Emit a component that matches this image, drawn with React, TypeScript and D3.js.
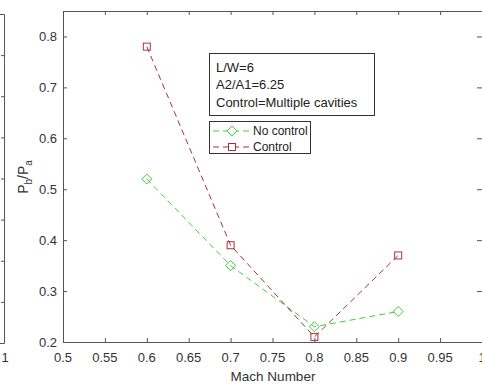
import React from "react";
import * as d3 from "d3";

const mach = [0.6, 0.7, 0.8, 0.9];
const noControl = [0.52, 0.35, 0.23, 0.26];
const control = [0.78, 0.39, 0.21, 0.37];
const xTicks = [0.5, 0.55, 0.6, 0.65, 0.7, 0.75, 0.8, 0.85, 0.9, 0.95, 1];
const yTicks = [0.2, 0.3, 0.4, 0.5, 0.6, 0.7, 0.8];
const infoLines = ["L/W=6", "A2/A1=6.25", "Control=Multiple cavities"];
const seriesNames = ["No control", "Control"];
const leftPanelTicks = [1, 2, 3, 4, 5, 6, 7];

const W = 482;
const H = 387;
const M = { left: 63, top: 11, right: 482, bottom: 342 };
const GREEN = "#3fcf3f";
const RED = "#a8323a";
const AXIS = "#555";
const FONT = "'Liberation Sans', Arial, sans-serif";

export default function App() {
  const x = d3.scaleLinear().domain([0.5, 1]).range([M.left, M.right]);
  const y = d3.scaleLinear().domain([0.2, 0.85]).range([M.bottom, M.top]);
  const line = d3
    .line<number>()
    .x((_, i) => x(mach[i]))
    .y((d) => y(d));

  const leftY = d3.scaleLinear().domain([0, 8]).range([343, 14]);

  return (
    <svg
      width={W}
      height={H}
      style={{ position: "absolute", left: 0, top: 0, background: "#fff" }}
      fontFamily={FONT}
    >
      <rect x={0} y={0} width={W} height={H} fill="#fff" />
      {/* partial neighbouring panel on the left */}
      <g stroke={AXIS} strokeWidth={1} fill="none">
        <path d={`M0,14.5H4.5V343.5H0`} />
        {leftPanelTicks.map((t) => (
          <line key={t} x1={4.5} x2={1} y1={leftY(t) + 0.5} y2={leftY(t) + 0.5} />
        ))}
      </g>
      <text x={5} y={362} fontSize={13} fill="#333" textAnchor="middle">
        1
      </text>

      {/* axes box */}
      <g stroke={AXIS} strokeWidth={1} fill="none">
        <rect x={M.left + 0.5} y={M.top + 0.5} width={M.right - M.left} height={M.bottom - M.top} />
        {xTicks.map((t) => (
          <g key={t}>
            <line x1={x(t) + 0.5} x2={x(t) + 0.5} y1={M.bottom} y2={M.bottom - 4} />
            <line x1={x(t) + 0.5} x2={x(t) + 0.5} y1={M.top} y2={M.top + 4} />
          </g>
        ))}
        {yTicks.map((t) => (
          <g key={t}>
            <line x1={M.left} x2={M.left + 4} y1={y(t) + 0.5} y2={y(t) + 0.5} />
            <line x1={M.right - 5} x2={M.right} y1={y(t) + 0.5} y2={y(t) + 0.5} />
          </g>
        ))}
      </g>
      <g fontSize={13} fill="#333">
        {xTicks.map((t) => (
          <text key={t} x={x(t)} y={362} textAnchor="middle">
            {String(t)}
          </text>
        ))}
        {yTicks.map((t) => (
          <text key={t} x={M.left - 6} y={y(t) + 4.5} textAnchor="end">
            {String(t)}
          </text>
        ))}
      </g>
      <text x={273} y={381} fontSize={13.5} fill="#333" textAnchor="middle">
        Mach Number
      </text>
      <text
        transform={`translate(28,177) rotate(-90)`}
        fontSize={14}
        fill="#333"
        textAnchor="middle"
      >
        P<tspan fontSize={10} dy={4}>b</tspan>
        <tspan dy={-4}>/P</tspan>
        <tspan fontSize={10} dy={4}>a</tspan>
      </text>

      {/* series */}
      <path d={line(noControl) || ""} fill="none" stroke={GREEN} strokeWidth={1} strokeDasharray="6,4" />
      <path d={line(control) || ""} fill="none" stroke={RED} strokeWidth={1} strokeDasharray="6,4" />
      {noControl.map((v, i) => (
        <path
          key={"g" + i}
          d={`M${x(mach[i])},${y(v) - 5}L${x(mach[i]) + 5},${y(v)}L${x(mach[i])},${y(v) + 5}L${x(mach[i]) - 5},${y(v)}Z`}
          fill="none"
          stroke={GREEN}
          strokeWidth={1}
        />
      ))}
      {control.map((v, i) => (
        <rect
          key={"r" + i}
          x={x(mach[i]) - 3.5}
          y={y(v) - 3.5}
          width={7}
          height={7}
          fill="none"
          stroke={RED}
          strokeWidth={1}
        />
      ))}

      {/* info box */}
      <rect x={209.5} y={53.5} width={165} height={62} fill="#fff" stroke="#333" strokeWidth={1} />
      <g fontSize={13} fill="#222">
        {infoLines.map((s, i) => (
          <text key={s} x={216} y={71.5 + i * 17.5}>
            {s}
          </text>
        ))}
      </g>

      {/* legend */}
      <rect x={209.5} y={121.5} width={101} height={32} fill="#fff" stroke="#333" strokeWidth={1} />
      {seriesNames.map((s, i) => {
        const cy = 131 + i * 16;
        const col = i === 0 ? GREEN : RED;
        return (
          <g key={s}>
            <line x1={213} x2={250} y1={cy} y2={cy} stroke={col} strokeDasharray="6,4" />
            {i === 0 ? (
              <path d={`M232,${cy - 5}L237,${cy}L232,${cy + 5}L227,${cy}Z`} fill="#fff" stroke={col} />
            ) : (
              <rect x={228.5} y={cy - 3.5} width={7} height={7} fill="#fff" stroke={col} />
            )}
            <text x={253} y={cy + 4} fontSize={12} fill="#222">
              {s}
            </text>
          </g>
        );
      })}
    </svg>
  );
}
